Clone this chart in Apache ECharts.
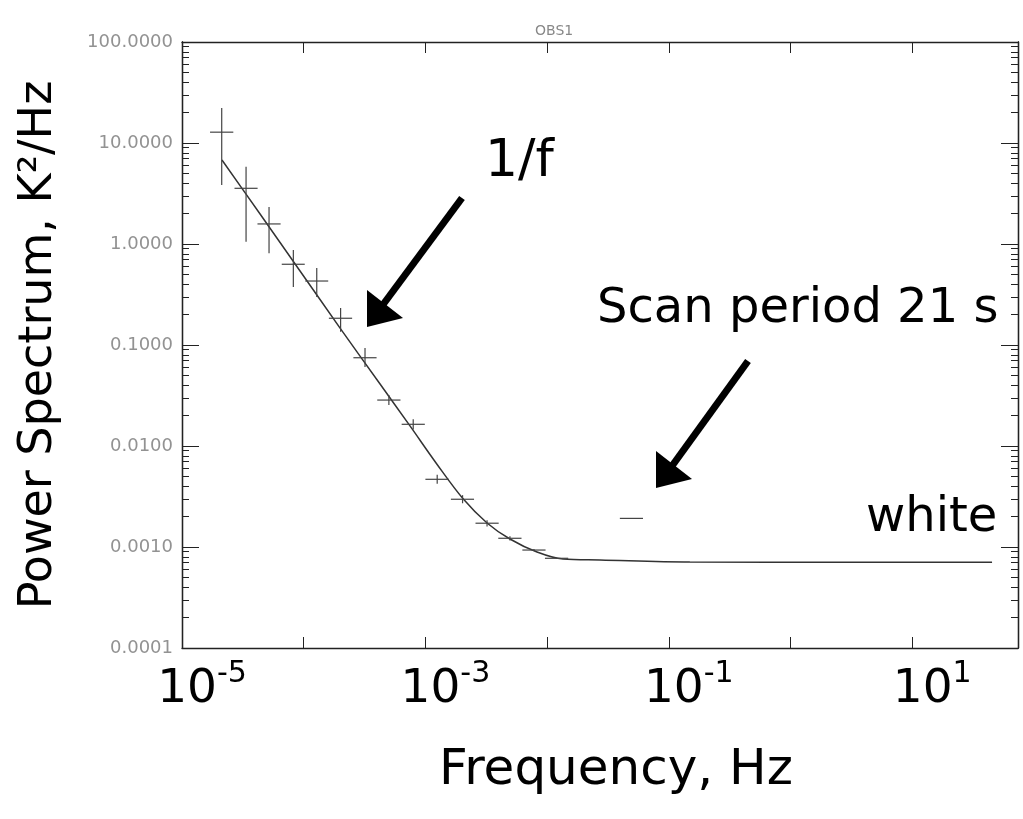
<!DOCTYPE html>
<html>
<head>
<meta charset="utf-8">
<script src="https://cdn.jsdelivr.net/npm/echarts@6/dist/echarts.min.js"></script>
<style>html,body{margin:0;padding:0;background:#fff;}#c{width:1023px;height:819px;}</style>
</head>
<body>
<div id="c"></div>
<script>
// ---- data ----
const freq    = [2.12e-5, 3.36e-5, 5.19e-5, 8.22e-5, 1.28e-4, 2.01e-4, 3.19e-4, 5.01e-4, 7.94e-4, 1.25e-3, 2.02e-3, 3.21e-3, 4.95e-3, 7.80e-3, 1.20e-2, 4.93e-2];
const freqLo  = [1.70e-5, 2.70e-5, 4.17e-5, 6.60e-5, 1.03e-4, 1.61e-4, 2.56e-4, 4.02e-4, 6.38e-4, 1.00e-3, 1.62e-3, 2.58e-3, 3.97e-3, 6.26e-3, 9.60e-3, 3.96e-2];
const freqHi  = [2.64e-5, 4.18e-5, 6.46e-5, 1.02e-4, 1.59e-4, 2.50e-4, 3.97e-4, 6.24e-4, 9.89e-4, 1.56e-3, 2.51e-3, 4.00e-3, 6.16e-3, 9.71e-3, 1.49e-2, 6.14e-2];
const power   = [12.8, 3.56, 1.58, 0.63, 0.43, 0.184, 0.0748, 0.0285, 0.0164, 0.00468, 0.00297, 0.00172, 0.00122, 0.000933, 0.000773, 0.00192];
const powerLo = [3.84, 1.05, 0.81, 0.375, 0.298, 0.135, 0.0605, 0.0255, 0.0146, 0.00422, 0.00271, 0.00160, 0.00116, 0.000912, 0.000765, 0.00192];
const powerHi = [22.2, 5.82, 2.32, 0.873, 0.578, 0.232, 0.0933, 0.0320, 0.0184, 0.00519, 0.00326, 0.00184, 0.00128, 0.000954, 0.000781, 0.00192];

const modelFreq  = [2.13e-5, 4.38e-5, 9.33e-5, 1.99e-4, 4.24e-4, 7.47e-4, 1.24e-3, 2.04e-3, 3.21e-3, 4.95e-3, 8.26e-3, 1.35e-2, 2.72e-2, 0.149, 3.08, 45.3];
const modelPower = [6.79, 1.98, 0.541, 0.147, 0.0411, 0.0158, 0.00664, 0.00300, 0.00173, 0.00120, 0.000891, 0.000760, 0.000743, 0.000710, 0.000708, 0.000708];

const xMin = 1e-5, xMax = 74;
const yMin = 1e-4, yMax = 100;
const xTickValues = [1e-5, 1e-4, 1e-3, 1e-2, 1e-1, 1, 10];
const xLabelValues = [1e-5, 1e-3, 1e-1, 10];
const xLabelExps = ['-5', '-3', '-1', '1'];
const yTickValues = [1e-4, 1e-3, 1e-2, 1e-1, 1, 10, 100];
const yTickLabels = ['0.0001', '0.0010', '0.0100', '0.1000', '1.0000', '10.0000', '100.0000'];
const yMinorValues = [
  2e-4,3e-4,4e-4,5e-4,6e-4,7e-4,8e-4,9e-4,
  2e-3,3e-3,4e-3,5e-3,6e-3,7e-3,8e-3,9e-3,
  2e-2,3e-2,4e-2,5e-2,6e-2,7e-2,8e-2,9e-2,
  0.2,0.3,0.4,0.5,0.6,0.7,0.8,0.9,
  2,3,4,5,6,7,8,9,
  20,30,40,50,60,70,80,90];

const FONT = 'DejaVu Sans';
const AX = '#222';

const crossData = freq.map((f, i) => [f, power[i], powerLo[i], powerHi[i], freqLo[i], freqHi[i]]);
const modelData = modelFreq.map((f, i) => [f, modelPower[i]]);

function nearIdx(arr, v) {
  for (let i = 0; i < arr.length; i++) if (Math.abs(Math.log10(arr[i]) - Math.log10(v)) < 1e-6) return i;
  return -1;
}

const chart = echarts.init(document.getElementById('c'), null, {renderer: 'canvas'});

const baseX = {
  type: 'log', min: xMin, max: xMax, gridIndex: 0,
  axisLine: {show: true, lineStyle: {color: AX, width: 1.3}},
  axisTick: {show: true, inside: true, length: 11, customValues: xTickValues, lineStyle: {color: AX, width: 1}},
  splitLine: {show: false}, minorTick: {show: false}
};
const baseY = {
  type: 'log', min: yMin, max: yMax, gridIndex: 0,
  axisLine: {show: true, lineStyle: {color: AX, width: 1.3}},
  splitLine: {show: false}, minorTick: {show: false}
};

chart.setOption({
  backgroundColor: '#fff',
  animation: false,
  title: {
    text: 'OBS1', left: 530, top: 19,
    textStyle: {fontFamily: FONT, fontSize: 14, fontWeight: 'normal', color: '#888'}
  },
  grid: {left: 182, right: 5, top: 42, bottom: 171, containLabel: false, outerBoundsMode: 'none'},
  xAxis: [
    Object.assign({}, baseX, {
      position: 'bottom',
      name: 'Frequency, Hz', nameLocation: 'middle', nameGap: 98,
      nameTextStyle: {fontFamily: FONT, fontSize: 50, color: '#000', padding: [0, 0, 0, 32]},
      axisLabel: {
        show: true, margin: 11, customValues: xLabelValues, padding: [0, 0, 0, 40],
        formatter: function (v) {
          const i = nearIdx(xLabelValues, v);
          if (i < 0) return '';
          return '{b|10}{s|' + xLabelExps[i] + '}';
        },
        rich: {
          b: {fontFamily: FONT, fontSize: 47, lineHeight: 47, color: '#000', padding: [14, 0, 0, 0]},
          s: {fontFamily: FONT, fontSize: 30, lineHeight: 30, color: '#000', verticalAlign: 'top'}
        }
      }
    }),
    Object.assign({}, baseX, {position: 'top', axisLabel: {show: false}})
  ],
  yAxis: [
    Object.assign({}, baseY, {
      position: 'left',
      name: 'Power Spectrum, K\u00B2/Hz', nameLocation: 'middle', nameRotate: 90, nameGap: 120,
      nameTextStyle: {fontFamily: FONT, fontSize: 46, color: '#000'},
      axisTick: {show: true, inside: true, length: 17, customValues: yTickValues, lineStyle: {color: AX, width: 1}},
      axisLabel: {
        show: true, margin: 9, customValues: yTickValues,
        fontFamily: FONT, fontSize: 18, color: '#929292',
        formatter: function (v) {
          const i = nearIdx(yTickValues, v);
          return i < 0 ? '' : yTickLabels[i];
        }
      }
    }),
    Object.assign({}, baseY, {
      position: 'left', axisLabel: {show: false},
      axisTick: {show: true, inside: true, length: 7, customValues: yMinorValues, lineStyle: {color: AX, width: 1}}
    }),
    Object.assign({}, baseY, {
      position: 'right', axisLabel: {show: false},
      axisTick: {show: true, inside: true, length: 17, customValues: yTickValues, lineStyle: {color: AX, width: 1}}
    }),
    Object.assign({}, baseY, {
      position: 'right', axisLabel: {show: false},
      axisTick: {show: true, inside: true, length: 7, customValues: yMinorValues, lineStyle: {color: AX, width: 1}}
    })
  ],
  series: [
    {
      name: 'model', type: 'line', xAxisIndex: 0, yAxisIndex: 0,
      data: modelData, showSymbol: false, smooth: 0.35,
      lineStyle: {color: '#333', width: 1.5}, z: 3
    },
    {
      name: 'measured', type: 'custom', xAxisIndex: 0, yAxisIndex: 0,
      data: crossData, encode: {x: 0, y: 1}, z: 4,
      renderItem: function (params, api) {
        const f = api.value(0), p = api.value(1), plo = api.value(2), phi = api.value(3), flo = api.value(4), fhi = api.value(5);
        const a = api.coord([f, plo]), b = api.coord([f, phi]);
        const l = api.coord([flo, p]), r = api.coord([fhi, p]);
        const st = {stroke: '#444', lineWidth: 1.2};
        return {
          type: 'group',
          children: [
            {type: 'line', shape: {x1: a[0], y1: a[1], x2: b[0], y2: b[1]}, style: st},
            {type: 'line', shape: {x1: l[0], y1: l[1], x2: r[0], y2: r[1]}, style: st}
          ]
        };
      }
    }
  ],
  graphic: [
    {type: 'text', left: 485, top: 136, style: {text: '1/f', fontFamily: FONT, fontSize: 52, fill: '#000'}},
    {type: 'text', left: 597, top: 286, style: {text: 'Scan period 21 s', fontFamily: FONT, fontSize: 48, fill: '#000'}},
    {type: 'text', left: 866, top: 495, style: {text: 'white', fontFamily: FONT, fontSize: 48, fill: '#000'}},
    {type: 'line', shape: {x1: 462, y1: 198, x2: 382, y2: 306}, style: {stroke: '#000', lineWidth: 7}},
    {type: 'polygon', shape: {points: [[367, 327], [367, 290], [403, 318]]}, style: {fill: '#000'}},
    {type: 'line', shape: {x1: 748, y1: 361, x2: 672, y2: 466}, style: {stroke: '#000', lineWidth: 7}},
    {type: 'polygon', shape: {points: [[656, 488], [656, 451], [692, 479]]}, style: {fill: '#000'}}
  ]
});
</script>
</body>
</html>
